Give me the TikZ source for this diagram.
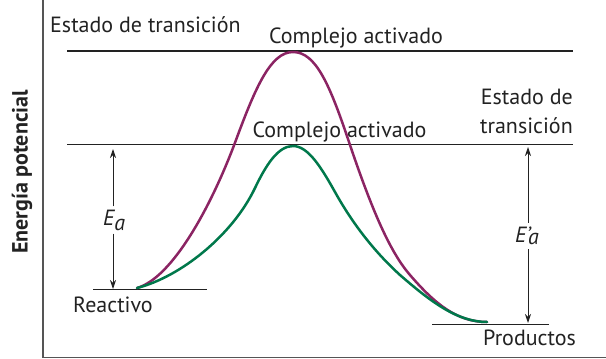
\documentclass[tikz,border=0pt]{standalone}
\usepackage{fontspec}
\setmainfont{PT Sans}
\usetikzlibrary{arrows.meta}
\definecolor{curvepurple}{HTML}{8B2463}
\definecolor{curvegreen}{HTML}{00784B}
\definecolor{axisgray}{HTML}{555555}
\definecolor{txt}{HTML}{222222}
\begin{document}
\begin{tikzpicture}[x=1pt,y=-1pt,
  lvl/.style={draw=txt, line width=1.1pt},
  lab/.style={font=\fontsize{22}{29}\selectfont, inner sep=0pt, text=txt},
  dimarrow/.style={draw=txt, line width=0.9pt, -{Stealth[length=9pt,width=6pt]}},
  curve/.style={line width=2.5pt, line cap=round, line join=round},
  axis/.style={draw=axisgray, line width=1.2pt}]
\useasboundingbox (0,0) rectangle (606,359);
% axes
\coordinate (ax0) at (43,0);
\coordinate (axo) at (43,357.5);
\coordinate (ax1) at (606,357.5);
\draw[axis] (ax0) -- (axo) -- (ax1);
\node[rotate=90, font=\fontsize{22}{22}\selectfont\bfseries, text=txt, inner sep=0pt] (ylab) at (22,172) {Energía potencial};
% level lines
\coordinate (t1) at (67,51); \coordinate (t2) at (573,51);
\coordinate (m1) at (67,144.5); \coordinate (m2) at (573,144.5);
\coordinate (r1) at (93,289.5); \coordinate (r2) at (207,289.5);
\coordinate (p1) at (432,324.5); \coordinate (p2) at (549,324.5);
\draw[lvl] (t1) -- (t2);
\draw[lvl] (m1) -- (m2);
\draw[lvl] (r1) -- (r2);
\draw[lvl] (p1) -- (p2);
% labels
\node[lab, anchor=base west] (ets) at (50,32) {Estado de transición};
\node[lab, anchor=base] (ca1) at (356,43) {Complejo activado};
\node[lab, anchor=base] (ca2) at (339.5,137) {Complejo activado};
\node[lab, anchor=base east, align=right] (etr) at (573,133) {Estado de\\transición};
\node[lab, anchor=base west] (reac) at (73,312) {Reactivo};
\node[lab, anchor=base west] (prod) at (483,345) {Productos};
% curves
\draw[curve, curvepurple] (137,288)
  .. controls (172,278) and (211,207.5) .. (236,140)
  .. controls (256,86) and (271,52) .. (293,52)
  .. controls (316,52) and (330,85) .. (350,145)
  .. controls (372,210) and (390,252) .. (410,275)
  .. controls (435,304) and (457,322) .. (487,322);
\draw[curve, curvegreen] (137,288)
  .. controls (180,277) and (232,236) .. (255,188)
  .. controls (266,165) and (278,146) .. (293,146)
  .. controls (308,146) and (321,167) .. (335,192)
  .. controls (355,228) and (378,255) .. (400,275)
  .. controls (430,301) and (457,322) .. (487,322);
% activation energy arrows
\node[lab, inner sep=3pt] (ea) at (114,220) {\itshape E\raisebox{-5pt}{a}};
\coordinate (eatop) at (113,149);
\coordinate (eabot) at (113,289);
\draw[dimarrow] (ea.north -| eatop) -- (eatop);
\draw[dimarrow] (ea.south -| eabot) -- (eabot);
\node[lab, inner sep=4pt] (eb) at (527,236) {\itshape E'\kern-2.5pt\raisebox{-2pt}{a}};
\coordinate (ebtop) at (528,147);
\coordinate (ebbot) at (528,323);
\draw[dimarrow] (eb.north -| ebtop) -- (ebtop);
\draw[dimarrow] (eb.south -| ebbot) -- (ebbot);
\end{tikzpicture}
\end{document}
